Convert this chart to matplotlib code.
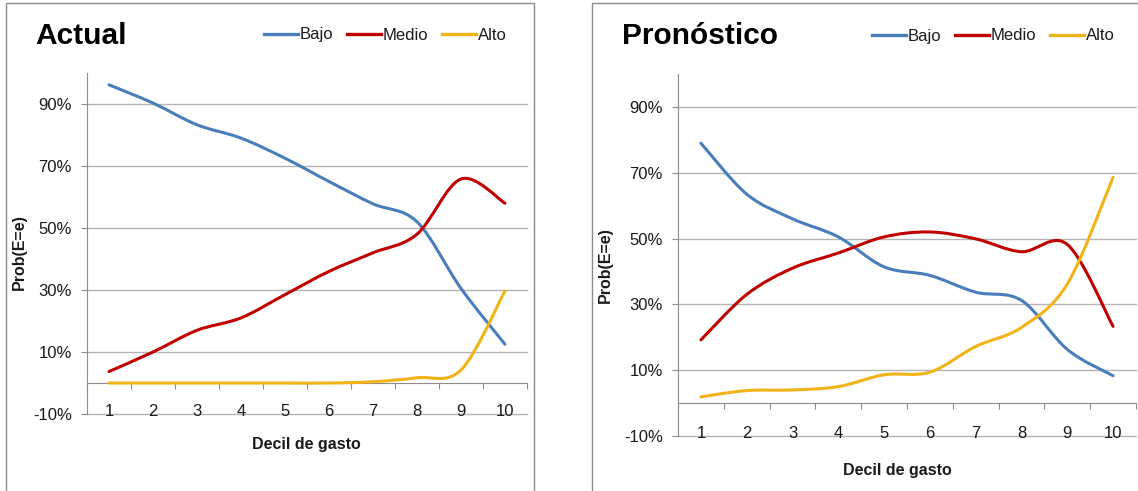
import numpy as np
import matplotlib
matplotlib.use("Agg")
import matplotlib.pyplot as plt
from matplotlib.path import Path
from matplotlib.patches import PathPatch, Rectangle
from matplotlib.lines import Line2D
from matplotlib.ticker import FuncFormatter

plt.rcParams["font.family"] = ["Liberation Sans", "DejaVu Sans"]

deciles = list(range(1, 11))
series_names = ["Bajo", "Medio", "Alto"]
colors = ["#4A7EBB", "#C00000", "#F0B418"]

# Actual
actual_bajo = [0.962, 0.903, 0.833, 0.790, 0.725, 0.650, 0.578, 0.520, 0.305, 0.125]
actual_medio = [0.037, 0.100, 0.170, 0.210, 0.285, 0.360, 0.420, 0.480, 0.658, 0.580]
actual_alto = [0.000, 0.000, 0.000, 0.000, 0.000, 0.000, 0.004, 0.017, 0.042, 0.297]

# Pronostico
pron_bajo = [0.790, 0.635, 0.560, 0.505, 0.414, 0.388, 0.337, 0.312, 0.163, 0.083]
pron_medio = [0.192, 0.330, 0.410, 0.456, 0.505, 0.520, 0.499, 0.460, 0.482, 0.233]
pron_alto = [0.019, 0.038, 0.040, 0.050, 0.086, 0.094, 0.172, 0.230, 0.362, 0.686]

yticks = [-0.1, 0.1, 0.3, 0.5, 0.7, 0.9]

GRID = "#B4B4B4"
AXIS = "#8C8C8C"
TXT = "#1A1A1A"


def smooth_path(x, y):
    # Excel-like smoothed line: cubic bezier through every point
    p = np.column_stack([x, y]).astype(float)
    n = len(p)
    verts = [p[0]]
    codes = [Path.MOVETO]
    for i in range(n - 1):
        p0 = p[i - 1] if i > 0 else p[i]
        p3 = p[i + 2] if i + 2 < n else p[i + 1]
        c1 = p[i] + (p[i + 1] - p0) / 6.0
        c2 = p[i + 1] - (p3 - p[i]) / 6.0
        verts += [c1, c2, p[i + 1]]
        codes += [Path.CURVE4] * 3
    return Path(verts, codes)


def draw_panel(fig, rect, frame, title, title_xy, data, legend_xy, ylabel_xy, xlabel_xy):
    fig.patches.append(Rectangle(frame[:2], frame[2], frame[3], transform=fig.transFigure,
                                 fill=False, edgecolor=AXIS, lw=1.0, zorder=0))
    ax = fig.add_axes(rect)
    ax.set_xlim(0.5, 10.5)
    ax.set_ylim(-0.1, 1.0)
    for sp in ["top", "right"]:
        ax.spines[sp].set_visible(False)
    ax.spines["left"].set_color(AXIS)
    ax.spines["bottom"].set_position(("data", 0))
    ax.spines["bottom"].set_color(AXIS)
    ax.set_yticks(yticks)
    ax.yaxis.set_major_formatter(FuncFormatter(lambda v, _: f"{v*100:.0f}%"))
    ax.tick_params(axis="y", length=4, color=AXIS, labelsize=12, labelcolor=TXT, pad=7)
    ax.set_xticks(np.arange(0.5, 11.0, 1.0))
    ax.set_xticklabels([])
    ax.tick_params(axis="x", direction="out", length=4, color=AXIS)
    ax.grid(axis="y", color=GRID, lw=1.0)
    for gl in ax.get_ygridlines():
        gl.set_clip_on(False)
    ax.set_axisbelow(True)
    for d in deciles:
        ax.text(d, -0.091, str(d), ha="center", va="center", fontsize=12, color=TXT)
    for vals, c in zip(data, colors):
        ax.add_patch(PathPatch(smooth_path(deciles, vals), fill=False, edgecolor=c,
                               lw=2.2, capstyle="round", zorder=3))
    fig.text(title_xy[0], title_xy[1], title, fontsize=21.5, fontweight="bold", ha="left",
             va="baseline")
    handles = [Line2D([], [], color=c, lw=2.4) for c in colors]
    fig.legend(handles, series_names, loc="center right", bbox_to_anchor=legend_xy,
               bbox_transform=fig.transFigure, ncol=3, frameon=False, fontsize=12,
               handlelength=2.05, handletextpad=0.12, columnspacing=0.8, borderpad=0,
               borderaxespad=0, labelcolor=TXT)
    fig.text(ylabel_xy[0], ylabel_xy[1], "Prob(E=e)", rotation=90, fontsize=11.5,
             fontweight="bold", ha="center", va="center", color=TXT)
    fig.text(xlabel_xy[0], xlabel_xy[1], "Decil de gasto", fontsize=11.5,
             fontweight="bold", ha="center", va="center", color=TXT)
    return ax


W, H = 1138, 491
fig = plt.figure(figsize=(W / 100, H / 100), dpi=100)


def fx(px):
    return px / W


def fy(py):
    return 1 - py / H


draw_panel(fig,
           [fx(87), fy(414), fx(527 - 87), (414 - 73) / H],
           (fx(6), fy(495), fx(534 - 6), (495 - 3) / H),
           "Actual", (fx(35), fy(44)),
           [actual_bajo, actual_medio, actual_alto],
           (fx(507), fy(35)), (fx(19), fy(252)), (fx(306), fy(445)))

draw_panel(fig,
           [fx(678), fy(436), fx(1136 - 678), (436 - 74) / H],
           (fx(592), fy(495), fx(560), (495 - 3) / H),
           "Pronóstico", (fx(622), fy(44)),
           [pron_bajo, pron_medio, pron_alto],
           (fx(1115), fy(36)), (fx(605), fy(265)), (fx(897), fy(471)))

fig.savefig("out.png", dpi=100)
